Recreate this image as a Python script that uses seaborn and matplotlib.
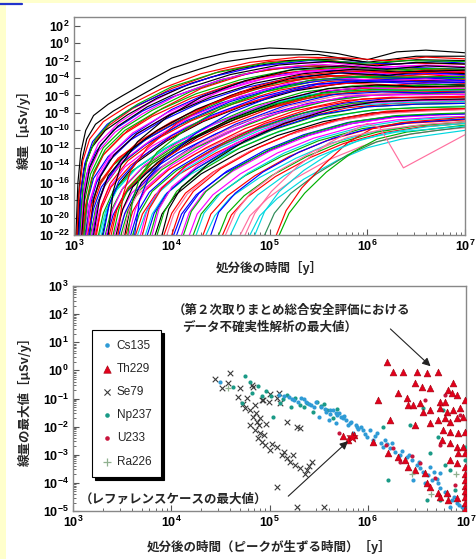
import numpy as np
import pandas as pd
import matplotlib
matplotlib.use("Agg")
import matplotlib.pyplot as plt
import matplotlib.ticker as mticker
from matplotlib.lines import Line2D
from matplotlib.patches import Rectangle
import seaborn as sns

sns.set_style("white")
plt.rcParams['font.family'] = ['Noto Sans CJK JP', 'DejaVu Sans']
plt.rcParams['mathtext.fontset'] = 'custom'
plt.rcParams['mathtext.rm'] = 'Liberation Sans'
plt.rcParams['mathtext.bf'] = 'Liberation Sans:bold'
plt.rcParams['mathtext.default'] = 'bf'

# ===========================================================
# DATA (log10 time [y], log10 dose [uSv/y])
# ===========================================================

# --- top panel: dose curves, grouped by when they leave 1e-22 ---
curves_early = [
    [(3.02,-22),(3.04,-16),(3.07,-12.5),(3.12,-10),(3.2,-8.3),(3.35,-7),(3.5,-6),(3.75,-4.4),(4.0,-2.9),(4.3,-1.8),(4.6,-1.0),(5.0,-0.55),(5.3,-0.7),(5.7,-1.2),(6.0,-1.9),(6.3,-1.0),(6.6,-0.8),(7.0,-1.1)],
    [(3.03,-22),(3.05,-17),(3.08,-13.5),(3.13,-11),(3.22,-9.3),(3.4,-7.8),(3.6,-6.5),(4.0,-4.0),(4.5,-2.2),(5.0,-1.4),(5.5,-1.3),(6.0,-2.2),(6.5,-1.5),(7.0,-1.5)],
    [(3.04,-22),(3.07,-17),(3.11,-14),(3.2,-11.5),(3.35,-9.5),(3.6,-7.5),(4.0,-5.2),(4.5,-3.2),(5.0,-2.1),(5.5,-1.8),(6.0,-2.5),(6.5,-2.3),(7.0,-2.4)],
    [(3.05,-22),(3.08,-18),(3.13,-15),(3.22,-12.5),(3.4,-10),(3.7,-7.8),(4.0,-6.2),(4.5,-4.2),(5.0,-3.0),(5.5,-2.6),(6.0,-3.0),(6.5,-2.8),(7.0,-3.0)],
    [(3.06,-22),(3.1,-17),(3.15,-14),(3.25,-11.5),(3.45,-9.2),(3.75,-7),(4.1,-5),(4.6,-3.2),(5.1,-2.3),(5.6,-2.2),(6.1,-2.8),(6.6,-2.5),(7.0,-2.7)],
    [(3.07,-22),(3.11,-18),(3.17,-15),(3.3,-12),(3.5,-9.8),(3.8,-7.7),(4.2,-5.5),(4.7,-3.6),(5.2,-2.7),(5.7,-2.6),(6.2,-3.3),(6.6,-3.0),(7.0,-3.2)],
    [(3.08,-22),(3.12,-18.5),(3.18,-15.5),(3.3,-12.8),(3.55,-10),(3.9,-7.5),(4.3,-5.2),(4.8,-3.4),(5.3,-2.6),(5.8,-2.7),(6.2,-3.5),(6.6,-3.1),(7.0,-3.4)],
    [(3.09,-22),(3.14,-18),(3.2,-15.5),(3.35,-13),(3.6,-10.5),(4.0,-7.6),(4.4,-5.6),(4.9,-3.9),(5.4,-3.1),(5.9,-3.2),(6.3,-3.8),(6.7,-3.4),(7.0,-3.6)],
    [(3.1,-22),(3.15,-18.5),(3.22,-16),(3.38,-13),(3.65,-10.4),(4.0,-8.0),(4.5,-5.5),(5.0,-3.9),(5.5,-3.2),(6.0,-3.4),(6.5,-3.5),(7.0,-3.7)],
    [(3.04,-22),(3.06,-18),(3.1,-14.5),(3.18,-12),(3.32,-10),(3.55,-8.2),(3.85,-6.3),(4.2,-4.6),(4.7,-2.9),(5.2,-2.0),(5.7,-1.8),(6.1,-2.3),(6.5,-1.9),(7.0,-2.0)],
    [(3.11,-22),(3.16,-19),(3.24,-16.5),(3.4,-14),(3.7,-11.3),(4.1,-8.7),(4.6,-6.2),(5.1,-4.5),(5.6,-3.8),(6.1,-4.0),(6.6,-3.9),(7.0,-4.1)],
    [(3.12,-22),(3.18,-18.5),(3.26,-16),(3.45,-13.2),(3.75,-10.8),(4.15,-8.2),(4.6,-6.0),(5.1,-4.4),(5.6,-3.7),(6.1,-3.9),(6.6,-3.6),(7.0,-3.9)],
]
colors_early = ['black', 'black', 'red', 'blue', 'magenta', '#00b000',
                'red', 'blue', 'magenta', 'black', '#00b000', 'red']

curves_fill = [
    [(3.03,-22),(3.05,-17.5),(3.09,-13.5),(3.16,-11),(3.3,-9),(3.55,-7.2),(3.9,-5.2),(4.3,-3.5),(4.8,-2.2),(5.3,-1.6),(5.8,-1.7),(6.2,-2.0),(6.6,-1.6),(7.0,-1.8)],
    [(3.05,-22),(3.07,-17),(3.11,-13.8),(3.19,-11.3),(3.34,-9.3),(3.6,-7.4),(3.95,-5.6),(4.4,-3.9),(4.9,-2.6),(5.4,-2.0),(5.9,-2.2),(6.3,-2.4),(6.7,-2.1),(7.0,-2.3)],
    [(3.06,-22),(3.09,-16.5),(3.13,-13.5),(3.22,-11),(3.38,-9),(3.65,-7),(4.0,-5.0),(4.45,-3.4),(4.95,-2.3),(5.45,-1.9),(5.95,-2.3),(6.4,-2.0),(7.0,-2.1)],
    [(3.07,-22),(3.1,-18),(3.15,-15),(3.25,-12.4),(3.42,-10.2),(3.7,-8.1),(4.05,-6.0),(4.5,-4.2),(5.0,-2.9),(5.5,-2.4),(6.0,-2.8),(6.5,-2.6),(7.0,-2.7)],
    [(3.08,-22),(3.11,-17.3),(3.16,-14.3),(3.27,-11.7),(3.45,-9.5),(3.75,-7.3),(4.15,-5.2),(4.6,-3.6),(5.1,-2.5),(5.6,-2.1),(6.1,-2.6),(6.5,-2.2),(7.0,-2.4)],
    [(3.09,-22),(3.13,-18.3),(3.19,-15.3),(3.3,-12.8),(3.5,-10.5),(3.8,-8.4),(4.2,-6.3),(4.65,-4.6),(5.15,-3.4),(5.65,-2.9),(6.1,-3.2),(6.55,-2.9),(7.0,-3.1)],
    [(3.1,-22),(3.14,-17.8),(3.2,-14.8),(3.32,-12.2),(3.52,-10),(3.85,-7.8),(4.25,-5.8),(4.7,-4.2),(5.2,-3.1),(5.7,-2.8),(6.2,-3.1),(6.6,-2.9),(7.0,-3.0)],
    [(3.12,-22),(3.16,-18.8),(3.23,-16),(3.36,-13.5),(3.58,-11.1),(3.9,-8.9),(4.3,-6.8),(4.75,-5.1),(5.25,-3.9),(5.75,-3.4),(6.2,-3.7),(6.6,-3.4),(7.0,-3.6)],
    [(3.13,-22),(3.17,-18),(3.24,-15.2),(3.38,-12.7),(3.6,-10.3),(3.95,-8),(4.35,-6),(4.8,-4.4),(5.3,-3.3),(5.8,-2.9),(6.25,-3.3),(7.0,-3.2)],
    [(3.14,-22),(3.19,-18.8),(3.27,-16.2),(3.42,-13.7),(3.66,-11.3),(4.0,-9),(4.4,-7),(4.85,-5.3),(5.35,-4.1),(5.85,-3.6),(6.3,-3.9),(7.0,-3.8)],
    [(3.16,-22),(3.2,-18),(3.27,-15.3),(3.41,-12.8),(3.64,-10.4),(3.98,-8.2),(4.4,-6.2),(4.85,-4.6),(5.35,-3.5),(5.85,-3.0),(6.3,-3.3),(7.0,-3.1)],
    [(3.17,-22),(3.22,-19),(3.3,-16.6),(3.47,-14),(3.72,-11.7),(4.08,-9.4),(4.5,-7.3),(4.95,-5.6),(5.45,-4.4),(5.95,-3.9),(6.4,-4.1),(7.0,-4.0)],
    [(3.19,-22),(3.24,-18.5),(3.32,-16),(3.48,-13.4),(3.74,-11),(4.1,-8.8),(4.5,-6.9),(4.95,-5.3),(5.45,-4.2),(5.95,-3.8),(6.4,-4.0),(7.0,-3.9)],
    [(3.21,-22),(3.26,-19.2),(3.35,-16.8),(3.52,-14.2),(3.8,-11.8),(4.15,-9.6),(4.58,-7.6),(5.05,-5.9),(5.55,-4.8),(6.05,-4.4),(6.5,-4.6),(7.0,-4.5)],
    [(3.23,-22),(3.28,-18.6),(3.37,-16.1),(3.55,-13.5),(3.83,-11.1),(4.2,-8.9),(4.62,-7),(5.1,-5.4),(5.6,-4.4),(6.1,-4.1),(6.5,-4.3),(7.0,-4.2)],
    [(3.26,-22),(3.32,-19.4),(3.42,-17),(3.62,-14.5),(3.92,-12.1),(4.3,-9.9),(4.75,-7.9),(5.25,-6.3),(5.75,-5.3),(6.25,-5.0),(7.0,-5.0)],
    [(3.29,-22),(3.35,-18.8),(3.45,-16.3),(3.64,-13.7),(3.95,-11.2),(4.32,-9),(4.75,-7.1),(5.25,-5.5),(5.75,-4.6),(6.25,-4.4),(7.0,-4.3)],
    [(3.32,-22),(3.38,-19.2),(3.49,-16.8),(3.7,-14.3),(4.02,-11.9),(4.4,-9.8),(4.85,-7.9),(5.35,-6.4),(5.85,-5.6),(6.35,-5.4),(7.0,-5.3)],
    [(3.34,-22),(3.4,-19.7),(3.51,-17.4),(3.73,-15),(4.06,-12.6),(4.45,-10.4),(4.9,-8.4),(5.4,-6.9),(5.9,-6.0),(6.4,-5.8),(7.0,-5.7)],
    [(3.38,-22),(3.44,-19),(3.55,-16.6),(3.77,-14),(4.1,-11.6),(4.5,-9.4),(4.95,-7.5),(5.45,-6.0),(5.95,-5.2),(6.45,-5.1),(7.0,-5.0)],
    [(3.41,-22),(3.48,-19.5),(3.59,-17.2),(3.82,-14.8),(4.16,-12.4),(4.56,-10.2),(5.0,-8.3),(5.5,-6.8),(6.0,-6.0),(6.5,-5.9),(7.0,-5.8)],
    [(3.44,-22),(3.51,-19.8),(3.63,-17.6),(3.87,-15.2),(4.22,-12.8),(4.62,-10.7),(5.08,-8.8),(5.58,-7.3),(6.08,-6.6),(6.55,-6.5),(7.0,-6.4)],
    [(3.48,-22),(3.55,-19.3),(3.66,-17),(3.9,-14.5),(4.25,-12),(4.65,-9.9),(5.1,-8.0),(5.6,-6.6),(6.1,-5.9),(6.55,-5.8),(7.0,-5.7)],
    [(3.52,-22),(3.58,-18.6),(3.69,-16),(3.92,-13.3),(4.26,-10.8),(4.65,-8.7),(5.1,-6.9),(5.6,-5.5),(6.1,-4.9),(6.55,-4.8),(7.0,-4.7)],
    [(3.58,-22),(3.65,-19.4),(3.77,-17.1),(4.02,-14.6),(4.38,-12.2),(4.78,-10.1),(5.25,-8.3),(5.75,-6.9),(6.25,-6.3),(7.0,-6.1)],
    [(3.63,-22),(3.7,-19.6),(3.83,-17.4),(4.08,-15),(4.45,-12.6),(4.85,-10.5),(5.3,-8.7),(5.8,-7.4),(6.3,-6.9),(7.0,-6.7)],
    [(3.68,-22),(3.75,-19),(3.88,-16.7),(4.14,-14.2),(4.5,-11.8),(4.9,-9.8),(5.38,-8.1),(5.88,-7.0),(6.38,-6.6),(7.0,-6.5)],
    [(3.73,-22),(3.8,-19.6),(3.93,-17.4),(4.2,-15),(4.58,-12.6),(4.98,-10.6),(5.45,-8.9),(5.95,-7.8),(6.45,-7.4),(7.0,-7.2)],
    [(3.78,-22),(3.85,-19.2),(3.98,-16.9),(4.25,-14.4),(4.62,-12),(5.02,-10),(5.5,-8.3),(6.0,-7.3),(6.5,-7.0),(7.0,-6.9)],
    [(3.83,-22),(3.9,-19.6),(4.04,-17.4),(4.3,-15),(4.68,-12.6),(5.08,-10.6),(5.55,-9.0),(6.05,-8.0),(6.5,-7.7),(7.0,-7.5)],
    [(3.92,-22),(4.0,-19.5),(4.14,-17.2),(4.42,-14.8),(4.8,-12.4),(5.2,-10.5),(5.68,-8.9),(6.15,-8.0),(6.6,-7.7),(7.0,-7.6)],
    [(4.02,-22),(4.1,-19.6),(4.25,-17.4),(4.53,-15),(4.92,-12.7),(5.32,-10.8),(5.8,-9.3),(6.25,-8.5),(6.65,-8.2),(7.0,-8.1)],
    [(4.1,-22),(4.18,-19.4),(4.33,-17.1),(4.62,-14.7),(5.0,-12.4),(5.4,-10.6),(5.85,-9.2),(6.3,-8.5),(7.0,-8.1)],
    [(4.22,-22),(4.3,-19.6),(4.46,-17.5),(4.75,-15.2),(5.12,-13),(5.5,-11.2),(5.95,-9.8),(6.4,-9.1),(7.0,-8.7)],
    [(4.35,-22),(4.44,-19.8),(4.6,-17.7),(4.9,-15.4),(5.27,-13.2),(5.62,-11.5),(6.05,-10.2),(6.45,-9.5),(7.0,-9.0)],
    [(4.52,-22),(4.61,-19.7),(4.78,-17.6),(5.06,-15.3),(5.42,-13.1),(5.76,-11.5),(6.15,-10.3),(6.55,-9.6),(7.0,-9.2)],
]
colors_fill = ['red', 'blue', '#00b000', 'magenta', 'black', 'red', '#00b000', 'blue',
               'magenta', 'red', 'black', '#00b000', 'blue', 'magenta', 'red', '#00d8e0',
               'black', '#00b000', 'blue', 'red', 'magenta', '#ff6f9f', '#00b000', 'black',
               'blue', 'red', 'magenta', '#00d8e0', '#00b000', 'black', 'red', 'blue',
               'magenta', '#00b000', '#00d8e0', 'red']

curves_mid = [
    [(3.15,-22),(3.2,-19),(3.28,-16.5),(3.45,-14),(3.75,-11.5),(4.15,-8.9),(4.6,-6.7),(5.1,-5.0),(5.6,-4.2),(6.1,-4.2),(6.6,-4.0),(7.0,-4.3)],
    [(3.18,-22),(3.23,-19),(3.32,-16.2),(3.5,-13.5),(3.8,-11),(4.2,-8.4),(4.7,-6.1),(5.2,-4.6),(5.7,-4.0),(6.2,-4.3),(6.6,-4.1),(7.0,-4.4)],
    [(3.2,-22),(3.26,-18),(3.35,-15.2),(3.55,-12.5),(3.85,-10),(4.25,-7.6),(4.7,-5.6),(5.2,-4.1),(5.7,-3.4),(6.2,-3.7),(6.6,-3.2),(7.0,-3.5)],
    [(3.22,-22),(3.28,-19),(3.38,-16.5),(3.58,-14),(3.9,-11.4),(4.3,-9.0),(4.8,-6.8),(5.3,-5.2),(5.8,-4.6),(6.3,-4.8),(6.7,-4.4),(7.0,-4.6)],
    [(3.25,-22),(3.3,-19.5),(3.4,-17),(3.6,-14.6),(3.95,-12),(4.35,-9.6),(4.85,-7.2),(5.35,-5.6),(5.85,-4.9),(6.3,-5.0),(6.7,-4.7),(7.0,-4.9)],
    [(3.28,-22),(3.34,-19),(3.44,-16.8),(3.65,-14.2),(4.0,-11.6),(4.4,-9.4),(4.9,-7.3),(5.4,-5.9),(5.9,-5.4),(6.4,-5.5),(7.0,-5.4)],
    [(3.3,-22),(3.36,-18.5),(3.46,-15.8),(3.66,-13.3),(4.0,-10.6),(4.4,-8.3),(4.9,-6.2),(5.4,-4.8),(5.9,-4.3),(6.4,-4.6),(7.0,-4.5)],
    [(3.33,-22),(3.4,-19),(3.5,-16.6),(3.72,-14),(4.05,-11.5),(4.45,-9.2),(4.95,-7.0),(5.45,-5.6),(5.95,-5.1),(6.4,-5.3),(7.0,-5.2)],
    [(3.36,-22),(3.42,-19.5),(3.52,-17.2),(3.75,-14.6),(4.1,-12),(4.5,-9.7),(5.0,-7.5),(5.5,-6.0),(6.0,-5.5),(6.5,-5.6),(7.0,-5.5)],
    [(3.4,-22),(3.46,-19),(3.56,-16.6),(3.8,-13.8),(4.15,-11.2),(4.55,-9),(5.05,-7.0),(5.55,-5.7),(6.05,-5.3),(6.5,-5.4),(7.0,-5.3)],
    [(3.43,-22),(3.5,-19),(3.6,-16.5),(3.85,-13.7),(4.2,-11),(4.6,-8.7),(5.1,-6.6),(5.6,-5.2),(6.1,-4.8),(6.5,-5.0),(7.0,-4.9)],
    [(3.46,-22),(3.52,-19.5),(3.63,-17),(3.88,-14.3),(4.25,-11.6),(4.65,-9.3),(5.15,-7.2),(5.65,-5.9),(6.15,-5.6),(6.6,-5.7),(7.0,-5.6)],
    [(3.5,-22),(3.57,-19),(3.68,-16.6),(3.92,-14),(4.3,-11.4),(4.7,-9.2),(5.2,-7.2),(5.7,-6.0),(6.2,-5.8),(6.6,-5.9),(7.0,-5.8)],
    [(3.53,-22),(3.6,-19.3),(3.72,-17),(3.97,-14.5),(4.35,-12),(4.75,-9.8),(5.25,-7.8),(5.75,-6.6),(6.25,-6.2),(6.6,-6.3),(7.0,-6.2)],
    [(3.56,-22),(3.63,-19),(3.75,-16.5),(4.0,-14),(4.4,-11.3),(4.8,-9.1),(5.3,-7.2),(5.8,-6.1),(6.3,-5.9),(7.0,-5.9)],
    [(3.6,-22),(3.67,-19.5),(3.8,-17),(4.05,-14.6),(4.45,-12),(4.85,-9.9),(5.35,-8.0),(5.85,-6.9),(6.35,-6.6),(7.0,-6.5)],
    [(3.35,-22),(3.4,-17),(3.48,-14),(3.65,-11.3),(3.95,-8.5),(4.3,-6.2),(4.75,-4.3),(5.25,-3.0),(5.75,-2.6),(6.2,-3.0),(6.6,-2.6),(7.0,-2.8)],
    [(3.45,-22),(3.5,-17.5),(3.58,-14.6),(3.75,-12),(4.05,-9.2),(4.4,-7.0),(4.85,-5.0),(5.3,-3.7),(5.8,-3.2),(6.3,-3.4),(7.0,-3.3)],
    [(3.55,-22),(3.6,-18),(3.68,-15.2),(3.85,-12.5),(4.15,-9.8),(4.5,-7.5),(4.95,-5.6),(5.4,-4.3),(5.9,-3.8),(6.4,-3.9),(7.0,-3.8)],
    [(3.62,-22),(3.67,-18),(3.76,-15.5),(3.95,-13),(4.25,-10.3),(4.6,-8),(5.05,-6.0),(5.5,-4.7),(6.0,-4.3),(6.5,-4.4),(7.0,-4.3)],
]
colors_mid = ['blue', 'magenta', 'black', 'red', '#00b000', '#00d8e0', 'blue',
              'magenta', 'red', '#00b000', 'black', 'blue', '#ff6f9f', 'red',
              'magenta', '#00b000', 'black', 'red', '#00b000', 'blue']

curves_late = [
    [(3.65,-22),(3.73,-19.5),(3.86,-17.2),(4.12,-14.6),(4.5,-12),(4.9,-10),(5.4,-8.1),(5.9,-7.1),(6.4,-6.8),(7.0,-6.7)],
    [(3.7,-22),(3.77,-19),(3.9,-16.6),(4.15,-14),(4.55,-11.3),(4.95,-9.2),(5.45,-7.4),(5.95,-6.4),(6.45,-6.2),(7.0,-6.1)],
    [(3.75,-22),(3.82,-19.5),(3.95,-17.2),(4.22,-14.6),(4.6,-12),(5.0,-10),(5.5,-8.2),(6.0,-7.3),(6.5,-7.0),(7.0,-6.9)],
    [(3.8,-22),(3.87,-19),(4.0,-16.5),(4.27,-14),(4.65,-11.5),(5.05,-9.5),(5.55,-7.7),(6.05,-6.8),(6.5,-6.6),(7.0,-6.5)],
    [(3.85,-22),(3.92,-19.4),(4.05,-17),(4.32,-14.5),(4.7,-12),(5.1,-10.1),(5.6,-8.4),(6.1,-7.6),(6.55,-7.4),(7.0,-7.3)],
    [(3.9,-22),(3.97,-19),(4.1,-16.5),(4.38,-13.8),(4.75,-11.2),(5.15,-9.2),(5.65,-7.5),(6.1,-6.7),(6.55,-6.5),(7.0,-6.4)],
    [(3.95,-22),(4.02,-19.6),(4.16,-17.3),(4.43,-14.8),(4.8,-12.4),(5.2,-10.5),(5.7,-8.9),(6.15,-8.1),(6.6,-7.8),(7.0,-7.6)],
    [(4.0,-22),(4.08,-19.3),(4.22,-17),(4.5,-14.4),(4.88,-12),(5.28,-10.1),(5.75,-8.6),(6.2,-7.8),(6.6,-7.6),(7.0,-7.5)],
    [(4.05,-22),(4.13,-19.5),(4.28,-17.2),(4.56,-14.7),(4.95,-12.3),(5.35,-10.5),(5.8,-9.1),(6.25,-8.4),(6.65,-8.2),(7.0,-8.1)],
    [(4.12,-22),(4.2,-19.3),(4.35,-17),(4.63,-14.5),(5.0,-12.2),(5.4,-10.4),(5.85,-9.0),(6.3,-8.3),(6.7,-8.1),(7.0,-8.0)],
    [(4.18,-22),(4.26,-19.6),(4.42,-17.4),(4.7,-15),(5.08,-12.6),(5.45,-10.9),(5.9,-9.5),(6.3,-8.8),(6.7,-8.5),(7.0,-8.4)],
    [(4.25,-22),(4.33,-19.5),(4.5,-17.2),(4.78,-14.9),(5.15,-12.6),(5.52,-10.9),(5.95,-9.6),(6.35,-8.9),(6.7,-8.6),(7.0,-8.5)],
    [(4.32,-22),(4.4,-19.6),(4.57,-17.5),(4.85,-15.2),(5.2,-13),(5.58,-11.2),(6.0,-9.9),(6.4,-9.2),(7.0,-8.8)],
    [(4.4,-22),(4.48,-19.4),(4.65,-17.2),(4.93,-14.8),(5.3,-12.5),(5.65,-10.9),(6.05,-9.7),(6.45,-9.1),(7.0,-8.7)],
    [(4.48,-22),(4.57,-19.5),(4.74,-17.5),(5.02,-15.2),(5.38,-13),(5.72,-11.4),(6.1,-10.2),(6.5,-9.5),(7.0,-9.0)],
]
colors_late = ['#00d8e0', 'red', 'blue', 'magenta', '#00b000', 'black', '#ff6f9f',
               'red', 'blue', '#00b000', 'magenta', '#00d8e0', 'red', 'blue', '#00b000']

curves_last = [
    [(4.6,-22),(4.7,-19.6),(4.88,-17.4),(5.15,-15.2),(5.5,-13),(5.85,-11.4),(6.2,-10.3),(6.6,-9.6),(7.0,-9.2)],
    [(4.7,-22),(4.8,-19.8),(4.98,-17.8),(5.25,-15.6),(5.6,-13.4),(5.95,-11.8),(6.3,-10.7),(6.7,-10),(7.0,-9.7)],
    [(4.8,-22),(4.9,-19.8),(5.08,-17.8),(5.35,-15.6),(5.7,-13.4),(6.0,-12.0),(6.35,-11),(7.0,-10.0)],
    [(4.95,-22),(5.05,-19.5),(5.22,-17.2),(5.48,-15),(5.8,-12.8),(6.1,-11.3),(6.45,-10.4),(7.0,-9.6)],
    [(5.07,-22),(5.17,-19.2),(5.33,-16.6),(5.55,-14),(5.8,-11.4),(6.05,-9.8),(6.35,-9.1),(7.0,-8.5)],
    [(5.1,-22),(5.2,-19.5),(5.36,-17.2),(5.58,-14.8),(5.85,-12.5),(6.1,-11),(6.4,-10.2),(7.0,-9.4)],
    [(4.85,-22),(4.95,-19.3),(5.1,-17),(5.35,-14.6),(5.65,-12.4),(5.95,-11),(6.3,-10.2),(7.0,-9.5)],
    [(4.55,-22),(4.65,-19.4),(4.82,-17),(5.1,-14.6),(5.45,-12.4),(5.8,-10.8),(6.15,-9.9),(6.6,-9.3),(7.0,-9.0)],
]
colors_last = ['#00d8e0', '#ff6f9f', '#00d8e0', '#2e8b57', 'red', '#00b000', '#00d8e0', '#ff6f9f']

# the pink curve that dips after 1e6 y
curve_dip = [(4.75,-22),(4.85,-19.5),(5.02,-17),(5.3,-14),(5.6,-11.5),(5.85,-10),(6.0,-9.2),
             (6.13,-9.7),(6.37,-14.3),(7.0,-10.5)]
color_dip = '#ff6f9f'

# --- bottom panel: peak dose vs time of peak (log10 t, log10 dose) ---
cs135_logt = [5.10,5.20,5.25,5.32,5.37,5.42,5.47,5.52,5.58,5.65,5.68,5.73,5.78,5.83,5.88,5.93,5.61,5.68,5.50,
              5.62,5.69,5.75,5.82,5.89,5.95,5.85,5.99,6.05,6.13,6.16,6.23,6.28,6.33,6.40,6.45,6.50,6.53,6.56,
              6.61,6.65,6.71,6.74,6.79,6.82,6.86,6.91,6.96,6.99,6.58,6.74,6.63,6.02,6.09,6.18,6.25,6.84,6.46,4.50,
              5.15,5.23,5.29,5.35,5.40,5.45,5.56,5.62,5.71,5.76,5.80,5.90,5.97,6.07,6.20,6.35,6.42,6.52,6.67,
              6.70,6.88,6.93]
cs135_logd = [-0.88,-0.95,-1.06,-0.99,-1.13,-1.24,-1.13,-1.31,-1.48,-1.41,-1.52,-1.66,-1.77,-1.84,-1.95,-2.02,-1.77,-1.88,-1.66,
              -1.41,-1.59,-1.70,-1.88,-2.02,-2.13,-2.23,-2.37,-2.48,-2.59,-2.73,-2.77,-2.91,-3.01,-3.09,-3.19,-3.37,-3.48,-3.62,
              -3.73,-3.90,-4.01,-4.19,-4.33,-4.44,-4.62,-4.72,-4.87,-4.90,-4.01,-3.66,-3.44,-2.13,-2.23,-2.48,-2.59,-4.87,-3.90,-0.42,
              -0.92,-1.00,-1.12,-1.02,-1.18,-1.30,-1.36,-1.55,-1.50,-1.62,-1.95,-2.10,-2.27,-2.35,-2.62,-2.85,-3.00,-3.25,-3.60,
              -3.85,-4.50,-4.80]

th229_logt = [6.20,6.26,6.36,6.50,6.60,6.71,6.48,6.55,6.63,6.87,6.31,6.40,6.10,6.82,6.86,6.91,6.99,6.74,6.79,
              6.41,6.46,6.53,6.56,6.63,6.74,6.81,6.87,6.94,6.23,6.48,6.63,6.71,6.79,6.84,6.91,6.97,6.77,6.84,
              6.92,6.99,6.76,6.84,6.91,6.97,6.99,6.92,6.99,6.84,6.91,6.05,6.21,6.31,6.38,6.41,6.48,6.58,6.60,
              6.63,6.71,6.74,6.81,6.82,6.91,6.99,6.99,6.99,6.99,6.99,6.99,6.99,5.75,5.80,5.86]
th229_logd = [0.30,-0.06,-0.06,-0.06,-0.10,-0.06,-0.45,-0.59,-0.63,-0.45,-0.81,-0.99,-1.06,-0.70,-0.81,-0.88,-1.06,-1.13,-1.13,
              -1.24,-1.24,-1.16,-1.48,-1.41,-1.34,-1.48,-1.41,-1.34,-1.77,-1.95,-1.88,-1.77,-1.70,-1.84,-1.70,-1.66,-2.13,-2.20,
              -2.23,-2.20,-2.48,-2.59,-2.73,-2.73,-2.94,-2.94,-3.44,-3.19,-3.30,-2.55,-2.94,-3.09,-3.19,-3.44,-3.55,-3.66,-4.01,
              -4.15,-4.37,-4.51,-4.37,-4.62,-4.54,-3.70,-3.90,-4.10,-4.30,-4.50,-4.70,-4.92,-2.34,-2.48,-2.30]

se79_logt = [4.60,4.58,4.70,4.83,4.77,4.93,4.99,5.08,4.83,4.87,4.90,5.18,5.28,5.31,4.82,4.92,5.11,4.90,4.95,
             5.08,5.18,5.26,5.38,5.08,5.28,5.55,4.80,4.85,4.88,4.92,5.01,5.13,5.21,5.31,5.36,5.43,4.75,4.80,
             4.85,5.00,5.10,4.45,4.52,4.86,4.89,4.94,4.96,5.03,5.15,5.24,5.40,4.68,4.73]
se79_logd = [-0.10,-0.45,-0.63,-0.59,-0.99,-1.06,-1.13,-0.99,-1.66,-1.84,-1.70,-1.84,-2.02,-2.05,-0.52,-1.06,-1.16,-2.23,-2.66,
             -2.73,-3.12,-3.37,-3.55,-4.15,-4.87,-4.87,-1.95,-2.13,-2.41,-2.55,-2.84,-3.01,-3.26,-3.48,-3.69,-3.26,-1.34,-1.41,
             -1.24,-0.85,-0.80,-0.30,-0.62,-1.50,-1.95,-2.30,-1.90,-2.60,-2.90,-3.00,-3.40,-0.95,-1.20]

np237_logt = [4.75,4.63,4.82,4.72,5.18,5.11,5.04,5.31,5.38,5.48,5.44,5.59,5.69,5.65,5.75,4.80,4.92,5.26,
              6.16,6.43,6.63,6.79,6.21,6.60,6.56,6.77,6.71,6.99,6.99,6.99,6.89,6.74,6.84,5.55,5.22,
              4.88,4.96,5.02,5.14,5.35,5.52]
np237_logd = [-0.20,-0.59,-0.81,-1.16,-0.88,-1.16,-1.66,-1.24,-1.16,-1.13,-1.48,-1.41,-1.38,-1.70,-1.66,-0.42,-0.92,-0.99,
              -2.02,-1.95,-2.94,-3.37,-3.90,-4.62,-1.34,-1.41,-2.37,-2.23,-2.73,-3.19,-4.26,-4.62,-3.55,-1.20,-1.30,
              -0.55,-0.75,-0.90,-1.00,-1.30,-1.25]

u233_logt = [5.71,6.05,6.19,6.26,6.53,6.68,6.89,6.99,6.33,6.58,6.79,6.94,6.74,5.82,6.45]
u233_logd = [-2.23,-2.59,-2.66,-2.77,-3.30,-3.83,-4.08,-4.44,-3.26,-1.06,-0.88,-1.59,-2.66,-2.40,-3.05]

ra226_logt = [4.58,6.64,6.45,6.90]
ra226_logd = [-0.63,-4.40,-3.70,-3.70]

ref_case_logt, ref_case_logd = 5.84, -2.37

legend_order = ['Cs135', 'Th229', 'Se79', 'Np237', 'U233', 'Ra226']

# ===========================================================
# FIGURE
# ===========================================================
fig = plt.figure(figsize=(4.76, 5.59), dpi=100, facecolor='white')
ax1 = fig.add_axes([74/476, 1-235/559, 391/476, 218/559])
ax2 = fig.add_axes([73/476, 1-511/559, 393/476, 225/559])

# pale yellow page border
fig.add_artist(Rectangle((0, 0), 6/476, 1, transform=fig.transFigure,
                         facecolor='#ffffcc', edgecolor='none'))
fig.add_artist(Rectangle((0, 1-3/559), 1, 3/559, transform=fig.transFigure,
                         facecolor='#ffffcc', edgecolor='none'))
fig.add_artist(Line2D([0, 22/476], [1-4/559, 1-4/559], transform=fig.transFigure,
                      color='#2233cc', lw=1.6))

# --- top panel ---
rows = []
palette = {}
all_curves = list(zip(curves_early, colors_early)) + list(zip(curves_fill, colors_fill)) \
    + list(zip(curves_mid, colors_mid)) + list(zip(curves_late, colors_late)) \
    + list(zip(curves_last, colors_last)) + [(curve_dip, color_dip)]
for i, (pts, col) in enumerate(all_curves):
    name = f"c{i:03d}"
    palette[name] = col
    for lt, ld in pts:
        rows.append((name, 10.0 ** lt, 10.0 ** ld))
df_top = pd.DataFrame(rows, columns=['curve', 't', 'dose'])

sns.lineplot(data=df_top, x='t', y='dose', hue='curve', palette=palette,
             estimator=None, sort=False, legend=False, linewidth=0.85, ax=ax1)
ax1.set_xscale('log')
ax1.set_yscale('log')
ax1.set_xlim(1e3, 1e7)
ax1.set_ylim(1e-22, 1e3)


def pow_fmt(v, pos):
    return r'$10^{%d}$' % int(round(np.log10(v)))


ax1.yaxis.set_major_locator(mticker.FixedLocator([10.0 ** k for k in range(-22, 3, 2)]))
ax1.yaxis.set_major_formatter(mticker.FuncFormatter(pow_fmt))
ax1.yaxis.set_minor_locator(mticker.NullLocator())
ax1.xaxis.set_major_locator(mticker.FixedLocator([1e3, 1e4, 1e5, 1e6, 1e7]))
ax1.xaxis.set_major_formatter(mticker.FuncFormatter(pow_fmt))
ax1.xaxis.set_minor_locator(mticker.LogLocator(subs=np.arange(2, 10)))
ax1.set_xlabel('処分後の時間［y］', fontsize=9, fontweight='bold')
ax1.set_ylabel('線量［μSv/y］', fontsize=9, fontweight='bold')
ax1.xaxis.set_label_coords(0.5, -0.12)
ax1.yaxis.set_label_coords(-0.11, 0.5)

# --- bottom panel ---
groups = [
    ('Se79', se79_logt, se79_logd, 'x', '#3a3a3a', 16, 0.8),
    ('Np237', np237_logt, np237_logd, 'o', '#1a9a86', 9, 0),
    ('Cs135', cs135_logt, cs135_logd, 'o', '#2f9bd6', 9, 0),
    ('U233', u233_logt, u233_logd, 'o', '#c8143c', 9, 0),
    ('Th229', th229_logt, th229_logd, '^', '#e3001b', 24, 0.4),
    ('Ra226', ra226_logt, ra226_logd, '+', '#8fb08f', 22, 0.9),
]
for name, lt, ld, mk, col, sz, lw in groups:
    sns.scatterplot(x=np.power(10.0, lt), y=np.power(10.0, ld), marker=mk, color=col,
                    s=sz, linewidth=lw, edgecolor=('#a0000f' if mk == '^' else col),
                    label=name, ax=ax2, zorder=3)
ax2.scatter([10.0 ** ref_case_logt], [10.0 ** ref_case_logd], marker='*', s=70,
            color='#e3001b', edgecolor='#a0000f', linewidth=0.4, zorder=4)

ax2.set_xscale('log')
ax2.set_yscale('log')
ax2.set_xlim(1e3, 1e7)
ax2.set_ylim(1e-5, 1e3)
ax2.yaxis.set_major_locator(mticker.FixedLocator([10.0 ** k for k in range(-5, 4)]))
ax2.yaxis.set_major_formatter(mticker.FuncFormatter(pow_fmt))
ax2.yaxis.set_minor_locator(mticker.LogLocator(subs=np.arange(2, 10)))
ax2.xaxis.set_major_locator(mticker.FixedLocator([1e3, 1e4, 1e5, 1e6, 1e7]))
ax2.xaxis.set_major_formatter(mticker.FuncFormatter(pow_fmt))
ax2.xaxis.set_minor_locator(mticker.LogLocator(subs=np.arange(2, 10)))
ax2.set_xlabel('処分後の時間（ピークが生ずる時間）［y］', fontsize=9, fontweight='bold')
ax2.set_ylabel('線量の最大値［μSv/y］', fontsize=9, fontweight='bold')
ax2.xaxis.set_label_coords(0.5, -0.13)
ax2.yaxis.set_label_coords(-0.106, 0.5)

# annotations
ax2.text(0.254, 0.893, '（第２次取りまとめ総合安全評価における', transform=ax2.transAxes,
         fontsize=9, fontweight='bold', va='center', ha='left')
ax2.text(0.277, 0.818, 'データ不確実性解析の最大値）', transform=ax2.transAxes,
         fontsize=9, fontweight='bold', va='center', ha='left')
ax2.text(0.018, 0.053, '（レファレンスケースの最大値）', transform=ax2.transAxes,
         fontsize=9, fontweight='bold', va='center', ha='left')
ax2.annotate('', xy=(10 ** 6.66, 10 ** 0.08), xytext=(10 ** 6.21, 10 ** 1.54),
             arrowprops=dict(arrowstyle='-|>', color='#222222', lw=0.8, mutation_scale=12))
ax2.annotate('', xy=(10 ** 5.82, 10 ** -2.45), xytext=(10 ** 5.17, 10 ** -4.54),
             arrowprops=dict(arrowstyle='-|>', color='#222222', lw=0.8, mutation_scale=12))

handles, labels = ax2.get_legend_handles_labels()
hmap = dict(zip(labels, handles))
leg = ax2.legend([hmap[k] for k in legend_order], legend_order, loc='upper left',
                 bbox_to_anchor=(0.048, 0.804), fontsize=8.5, frameon=True, fancybox=False,
                 edgecolor='black', shadow={'color': 'black', 'alpha': 1.0},
                 labelspacing=0.95, borderpad=0.8, handlelength=0.9, handletextpad=0.4,
                 borderaxespad=0, markerscale=1.1)
leg.get_frame().set_linewidth(0.8)
for t in leg.get_texts():
    t.set_family(['Liberation Sans', 'DejaVu Sans'])

for ax in (ax1, ax2):
    ax.set_facecolor('white')
    for sp in ax.spines.values():
        sp.set_color('#888888')
        sp.set_linewidth(1.0)
    ax.tick_params(which='both', direction='in', colors='#555555', labelcolor='black',
                   labelsize=9, top=False, right=False, left=True, bottom=True)
    ax.tick_params(which='major', length=4, pad=3)
    ax.tick_params(which='minor', length=2)

fig.savefig('out.png', dpi=100, facecolor='white')
